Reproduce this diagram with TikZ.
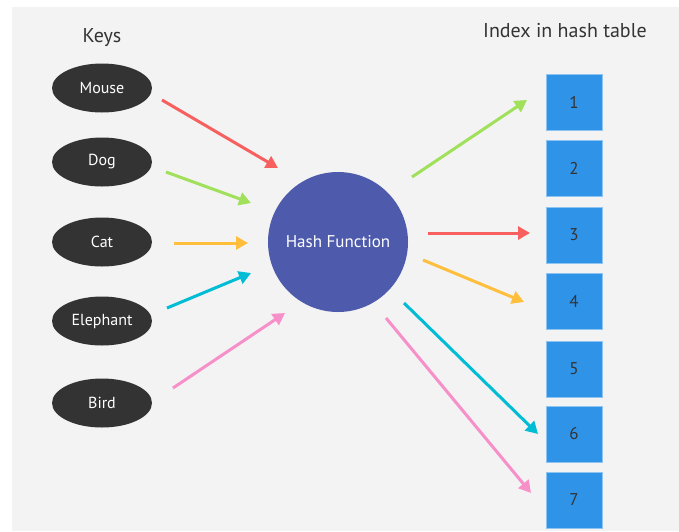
\documentclass[tikz,border=0pt]{standalone}
\usepackage{fontspec}
\setmainfont{PT Sans}
\usetikzlibrary{arrows.meta}
\definecolor{bggray}{HTML}{F3F3F3}
\definecolor{keyfill}{HTML}{333333}
\definecolor{hashfill}{HTML}{4E5AAB}
\definecolor{slotfill}{HTML}{2F93E8}
\definecolor{slotedge}{HTML}{8EC4F2}
\definecolor{cred}{HTML}{F8605F}
\definecolor{cgreen}{HTML}{A0E05A}
\definecolor{corange}{HTML}{FFBF3C}
\definecolor{ccyan}{HTML}{00BCD4}
\definecolor{cpink}{HTML}{F78FC9}
\definecolor{txtdark}{HTML}{333333}
\tikzset{
  keynode/.style={ellipse, fill=keyfill, minimum width=100pt, minimum height=49pt, inner sep=0pt, text=white, font=\fontsize{16}{18}\selectfont},
  slot/.style={rectangle, fill=slotfill, draw=slotedge, line width=0.6pt, minimum width=56pt, minimum height=56pt, inner sep=0pt, text=txtdark, font=\fontsize{17}{19}\selectfont},
  conn/.style={line width=3pt, -{Triangle[length=12pt,width=13pt]}},
  heading/.style={text=txtdark, font=\fontsize{20}{22}\selectfont, anchor=base},
}
\usetikzlibrary{shapes.geometric}
\begin{document}
\begin{tikzpicture}[x=1pt,y=-1pt]
\useasboundingbox (0,0) rectangle (679,531);
\fill[bggray] (12,7) rectangle (679,531);

\node[heading] (keys) at (102,42) {Keys};
\node[heading] (idx) at (565,37) {Index in hash table};

\node[keynode] (mouse) at (102,88) {Mouse};
\node[keynode] (dog) at (102,162) {Dog};
\node[keynode] (cat) at (102,242) {Cat};
\node[keynode] (elephant) at (102,321) {Elephant};
\node[keynode] (bird) at (102,403) {Bird};

\node[circle, fill=hashfill, minimum size=140pt, inner sep=0pt, text=white, font=\fontsize{17}{19}\selectfont] (hash) at (338,242) {Hash Function};

\node[slot] (s1) at (574,102) {1};
\node[slot] (s2) at (574,168) {2};
\node[slot] (s3) at (574,235) {3};
\node[slot] (s4) at (574,301) {4};
\node[slot] (s5) at (574,369) {5};
\node[slot] (s6) at (574,434) {6};
\node[slot] (s7) at (574,500) {7};

% arrow endpoints
\coordinate (m0) at (162,100); \coordinate (m1) at (278,168);
\coordinate (d0) at (166,172); \coordinate (d1) at (251,203);
\coordinate (c0) at (174,243); \coordinate (c1) at (248,243);
\coordinate (e0) at (167,308); \coordinate (e1) at (251,273);
\coordinate (b0) at (173,388); \coordinate (b1) at (285,313);
\coordinate (g0) at (412,177); \coordinate (g1) at (527,100);
\coordinate (r0) at (428,233); \coordinate (r1) at (530,233);
\coordinate (o0) at (423,260); \coordinate (o1) at (524,302);
\coordinate (y0) at (404,303); \coordinate (y1) at (538,434);
\coordinate (p0) at (386,318); \coordinate (p1) at (531,493);

\draw[conn, cred] (m0) -- (m1);
\draw[conn, cgreen] (d0) -- (d1);
\draw[conn, corange] (c0) -- (c1);
\draw[conn, ccyan] (e0) -- (e1);
\draw[conn, cpink] (b0) -- (b1);

\draw[conn, cgreen] (g0) -- (g1);
\draw[conn, cred] (r0) -- (r1);
\draw[conn, corange] (o0) -- (o1);
\draw[conn, ccyan] (y0) -- (y1);
\draw[conn, cpink] (p0) -- (p1);
\end{tikzpicture}
\end{document}
